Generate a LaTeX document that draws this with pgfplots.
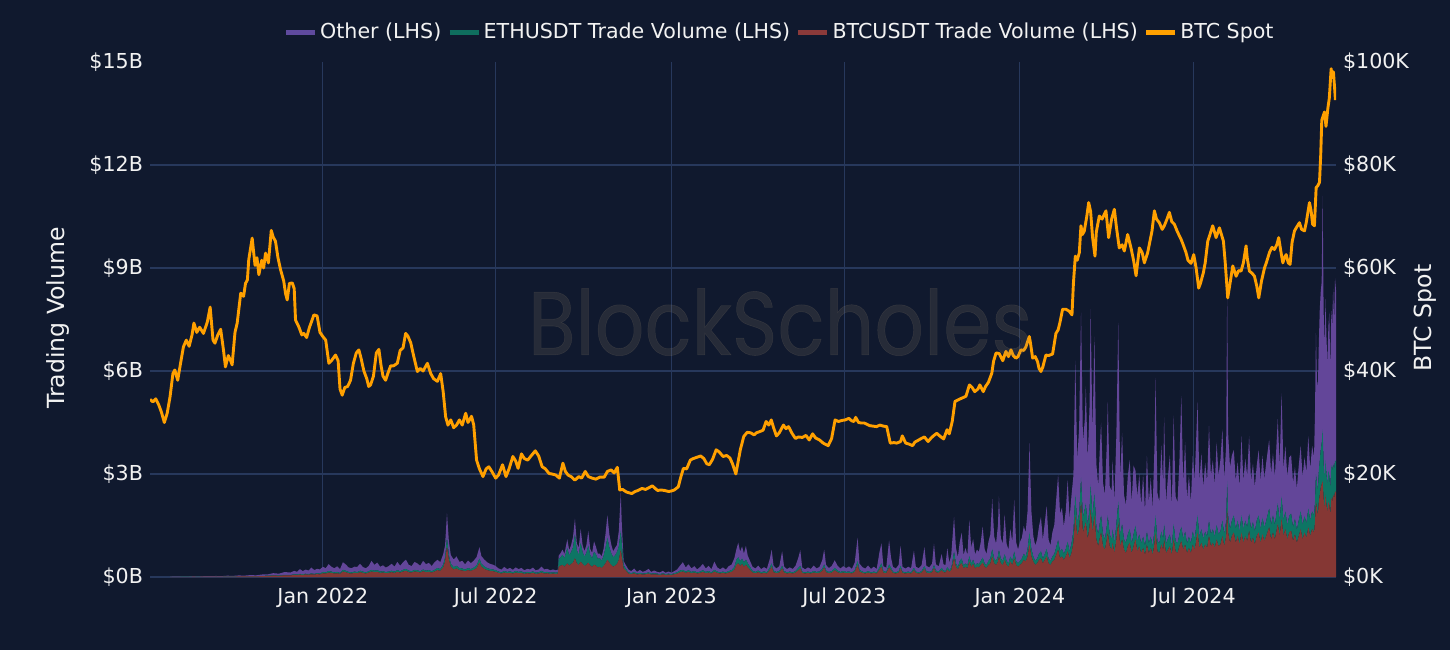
\documentclass[border=0pt]{standalone}
\usepackage{fontspec}
\setmainfont{DejaVu Sans}
\newfontfamily\wmfont{Poppins}[FakeBold=0.6]
\usepackage{pgfplots}
\pgfplotsset{compat=1.18}
\usepackage{pgfplotstable}
\definecolor{bg}{HTML}{10192E}
\definecolor{gridc}{HTML}{27385C}
\definecolor{txt}{HTML}{F2F2F2}
\definecolor{btcc}{HTML}{853734}
\definecolor{ethc}{HTML}{0D7564}
\definecolor{othc}{HTML}{634699}
\definecolor{btcl}{HTML}{8B3A3A}
\definecolor{ethl}{HTML}{0F6E5E}
\definecolor{othl}{HTML}{5F4A9E}
\definecolor{spot}{HTML}{FFA000}
\definecolor{wm}{HTML}{9A8A70}
\newcommand\fs{\fontsize{10.3}{12}\selectfont}
\newcommand\fl{\fontsize{11.8}{14}\selectfont}

\pgfplotstableread{
d b e o
-160 0.004 0.001 0.002
-154 0.005 0.001 0.003
-148 0.006 0.002 0.004
-142 0.006 0.002 0.005
-136 0.008 0.002 0.008
-130 0.007 0.002 0.006
-124 0.009 0.003 0.012
-118 0.010 0.003 0.010
-112 0.012 0.003 0.015
-106 0.011 0.003 0.012
-100 0.014 0.004 0.020
-94 0.013 0.004 0.016
-88 0.016 0.005 0.025
-82 0.015 0.005 0.020
-76 0.020 0.006 0.030
-70 0.018 0.006 0.025
-64 0.025 0.008 0.040
-58 0.030 0.010 0.035
-52 0.040 0.012 0.060
-46 0.035 0.012 0.050
-40 0.050 0.015 0.080
-34 0.045 0.015 0.070
-30 0.060 0.018 0.100
-27 0.055 0.018 0.080
-24 0.070 0.020 0.140
-21 0.060 0.020 0.090
-18 0.075 0.022 0.120
-15 0.065 0.022 0.100
-12 0.080 0.025 0.170
-9 0.070 0.022 0.110
-6 0.085 0.025 0.130
-3 0.075 0.025 0.120
0 0.11 0.04 0.15
3 0.10 0.035 0.12
6 0.13 0.045 0.20
9 0.12 0.04 0.14
12 0.10 0.035 0.12
15 0.11 0.04 0.16
18 0.09 0.03 0.11
21 0.16 0.05 0.22
24 0.14 0.045 0.18
27 0.11 0.04 0.13
30 0.10 0.035 0.12
33 0.12 0.04 0.14
36 0.11 0.035 0.15
39 0.14 0.045 0.20
42 0.12 0.04 0.13
45 0.10 0.035 0.12
48 0.13 0.04 0.15
51 0.16 0.05 0.26
54 0.14 0.045 0.17
57 0.15 0.05 0.22
60 0.12 0.04 0.14
63 0.13 0.04 0.17
66 0.11 0.035 0.13
69 0.12 0.04 0.16
72 0.14 0.045 0.20
75 0.12 0.04 0.14
78 0.15 0.05 0.24
81 0.13 0.04 0.16
84 0.16 0.05 0.22
87 0.18 0.055 0.27
90 0.14 0.045 0.17
93 0.13 0.04 0.15
96 0.16 0.05 0.23
99 0.15 0.045 0.20
102 0.13 0.04 0.16
105 0.17 0.05 0.25
108 0.14 0.045 0.19
111 0.15 0.05 0.21
114 0.13 0.04 0.15
117 0.16 0.05 0.22
120 0.20 0.06 0.24
123 0.18 0.055 0.20
126 0.28 0.08 0.30
128 0.45 0.12 0.35
130 0.90 0.25 0.70
132 0.50 0.14 0.40
134 0.30 0.09 0.25
137 0.22 0.07 0.22
140 0.25 0.08 0.27
143 0.20 0.06 0.18
146 0.19 0.06 0.22
149 0.17 0.05 0.15
152 0.20 0.06 0.22
155 0.18 0.055 0.17
158 0.21 0.065 0.20
161 0.26 0.08 0.24
164 0.42 0.12 0.33
166 0.30 0.09 0.22
169 0.24 0.07 0.20
172 0.20 0.06 0.17
175 0.18 0.055 0.15
178 0.17 0.05 0.14
181 0.15 0.05 0.12
184 0.12 0.04 0.09
187 0.10 0.035 0.08
190 0.13 0.045 0.12
193 0.11 0.04 0.08
196 0.12 0.045 0.10
199 0.10 0.04 0.07
202 0.13 0.05 0.10
205 0.11 0.04 0.08
208 0.12 0.045 0.10
211 0.09 0.035 0.07
214 0.11 0.04 0.09
217 0.10 0.04 0.08
220 0.12 0.045 0.11
223 0.09 0.035 0.07
226 0.10 0.04 0.08
229 0.13 0.05 0.12
232 0.10 0.04 0.08
235 0.11 0.04 0.09
238 0.09 0.035 0.07
241 0.10 0.04 0.08
244 0.09 0.035 0.07
246 0.10 0.04 0.07
247 0.30 0.22 0.10
249 0.33 0.25 0.12
251 0.35 0.30 0.15
253 0.30 0.25 0.12
256 0.40 0.45 0.25
258 0.33 0.30 0.15
260 0.38 0.35 0.20
262 0.42 0.45 0.30
264 0.55 0.70 0.45
266 0.40 0.38 0.20
268 0.35 0.30 0.20
270 0.45 0.55 0.40
272 0.38 0.35 0.20
274 0.32 0.28 0.15
276 0.36 0.35 0.22
278 0.42 0.50 0.42
280 0.34 0.30 0.18
282 0.30 0.25 0.15
284 0.36 0.38 0.30
286 0.33 0.33 0.22
288 0.28 0.25 0.15
290 0.30 0.25 0.13
292 0.26 0.22 0.12
294 0.32 0.30 0.20
296 0.40 0.45 0.40
298 0.50 0.65 0.65
300 0.42 0.45 0.38
302 0.35 0.35 0.25
304 0.30 0.28 0.17
306 0.33 0.30 0.22
308 0.38 0.35 0.20
310 0.50 0.40 0.45
312 0.80 0.55 1.10
313 0.60 0.40 0.60
315 0.25 0.10 0.12
317 0.20 0.06 0.10
320 0.10 0.04 0.08
323 0.08 0.03 0.06
326 0.11 0.04 0.10
329 0.07 0.03 0.05
332 0.09 0.035 0.08
335 0.07 0.03 0.05
338 0.08 0.03 0.07
341 0.10 0.035 0.10
344 0.07 0.03 0.05
347 0.08 0.03 0.08
350 0.07 0.03 0.05
353 0.06 0.025 0.05
356 0.08 0.03 0.07
359 0.06 0.025 0.04
362 0.07 0.03 0.06
365 0.06 0.025 0.04
368 0.08 0.03 0.06
371 0.10 0.04 0.08
374 0.14 0.05 0.14
377 0.16 0.05 0.22
380 0.12 0.04 0.12
383 0.15 0.05 0.17
386 0.11 0.04 0.10
389 0.13 0.045 0.14
392 0.10 0.035 0.09
395 0.12 0.04 0.13
398 0.15 0.05 0.18
401 0.11 0.04 0.10
404 0.13 0.045 0.15
407 0.10 0.035 0.09
410 0.16 0.05 0.24
413 0.12 0.04 0.12
416 0.10 0.035 0.09
419 0.12 0.04 0.12
422 0.10 0.035 0.08
425 0.13 0.045 0.14
428 0.15 0.05 0.16
431 0.22 0.08 0.25
433 0.35 0.15 0.30
435 0.40 0.18 0.42
437 0.32 0.14 0.28
439 0.38 0.16 0.35
441 0.30 0.13 0.25
443 0.36 0.15 0.40
445 0.28 0.12 0.22
447 0.22 0.09 0.18
450 0.13 0.05 0.12
453 0.11 0.04 0.10
456 0.14 0.05 0.14
459 0.10 0.04 0.09
462 0.12 0.045 0.12
465 0.10 0.04 0.10
468 0.20 0.07 0.25
470 0.30 0.10 0.40
472 0.14 0.05 0.14
475 0.11 0.04 0.10
478 0.13 0.045 0.14
481 0.25 0.08 0.42
483 0.13 0.045 0.13
486 0.10 0.04 0.09
489 0.12 0.04 0.12
492 0.10 0.035 0.10
495 0.13 0.045 0.15
498 0.20 0.07 0.30
500 0.25 0.08 0.45
502 0.12 0.04 0.12
505 0.10 0.035 0.09
508 0.12 0.04 0.12
511 0.10 0.035 0.10
514 0.13 0.045 0.16
517 0.11 0.04 0.10
520 0.12 0.04 0.13
523 0.18 0.06 0.25
525 0.28 0.09 0.43
527 0.14 0.05 0.16
530 0.11 0.04 0.11
533 0.13 0.045 0.15
536 0.20 0.07 0.22
539 0.14 0.05 0.14
542 0.11 0.04 0.10
545 0.13 0.045 0.14
548 0.11 0.04 0.11
551 0.12 0.04 0.15
554 0.10 0.035 0.10
557 0.15 0.05 0.22
560 0.35 0.12 0.68
562 0.16 0.05 0.18
565 0.12 0.04 0.13
568 0.10 0.035 0.11
571 0.13 0.045 0.16
574 0.10 0.035 0.10
577 0.12 0.04 0.14
580 0.10 0.035 0.10
583 0.22 0.07 0.45
585 0.30 0.10 0.58
587 0.13 0.045 0.14
590 0.11 0.04 0.12
593 0.28 0.09 0.70
595 0.20 0.07 0.30
597 0.12 0.04 0.14
600 0.10 0.035 0.11
603 0.13 0.045 0.18
605 0.25 0.08 0.58
607 0.12 0.04 0.14
610 0.10 0.035 0.11
613 0.12 0.04 0.14
616 0.10 0.035 0.12
619 0.20 0.07 0.50
621 0.12 0.04 0.14
624 0.10 0.035 0.12
627 0.13 0.045 0.17
630 0.24 0.08 0.55
632 0.13 0.045 0.15
635 0.11 0.04 0.13
638 0.14 0.05 0.20
640 0.26 0.09 0.62
642 0.14 0.05 0.18
645 0.12 0.04 0.15
648 0.20 0.07 0.40
650 0.14 0.05 0.18
652 0.13 0.045 0.17
654 0.22 0.07 0.55
656 0.15 0.05 0.22
658 0.20 0.07 0.35
659 0.30 0.10 0.60
661 0.55 0.20 1.00
663 0.30 0.10 0.45
665 0.22 0.08 0.28
667 0.35 0.12 0.55
669 0.40 0.14 0.75
671 0.25 0.09 0.30
673 0.30 0.10 0.45
675 0.25 0.09 0.30
677 0.45 0.16 1.05
679 0.30 0.10 0.45
681 0.38 0.13 0.60
683 0.25 0.09 0.32
685 0.30 0.10 0.40
687 0.28 0.10 0.35
689 0.35 0.12 0.55
691 0.42 0.15 0.90
693 0.30 0.10 0.42
695 0.26 0.09 0.32
697 0.35 0.12 0.55
699 0.40 0.14 0.70
701 0.60 0.22 1.45
703 0.40 0.14 0.65
705 0.35 0.12 0.50
707 0.45 0.16 0.90
708 0.60 0.20 1.55
710 0.40 0.14 0.60
712 0.35 0.12 0.50
714 0.50 0.17 1.15
716 0.35 0.12 0.50
718 0.30 0.10 0.40
720 0.45 0.15 0.80
722 0.35 0.12 0.55
724 0.55 0.20 1.50
726 0.35 0.12 0.55
728 0.30 0.10 0.40
730 0.35 0.12 0.55
732 0.40 0.14 0.60
734 0.50 0.18 0.80
736 0.45 0.15 0.70
738 0.60 0.22 1.10
740 0.95 0.35 2.60
742 0.60 0.22 1.10
744 0.45 0.15 0.60
746 0.35 0.12 0.45
748 0.40 0.14 0.55
750 0.50 0.18 0.80
752 0.55 0.20 1.00
754 0.40 0.14 0.55
756 0.50 0.17 0.90
758 0.60 0.22 1.25
760 0.40 0.14 0.55
762 0.35 0.12 0.45
764 0.45 0.15 0.70
766 0.50 0.17 0.85
768 0.65 0.22 1.40
770 0.80 0.28 1.90
772 0.55 0.20 1.10
774 0.60 0.22 1.20
776 0.50 0.18 0.80
778 0.60 0.22 1.10
780 0.75 0.28 1.80
782 0.55 0.20 0.95
784 0.70 0.28 1.40
786 1.00 0.35 1.60
788 1.80 0.60 3.90
790 1.20 0.40 1.80
792 1.40 0.45 2.50
794 2.20 0.70 4.80
796 1.30 0.45 2.20
798 1.50 0.50 2.60
799 1.60 0.55 3.40
801 1.10 0.40 1.90
803 1.50 0.55 3.00
804 2.00 0.70 5.10
806 1.30 0.45 2.40
808 1.80 0.65 4.55
810 1.10 0.40 1.80
812 0.90 0.35 1.40
814 1.20 0.45 2.30
815 1.30 0.50 2.70
817 0.90 0.35 1.50
819 0.80 0.30 1.30
821 1.10 0.40 2.40
822 1.30 0.50 3.30
824 0.90 0.35 1.40
826 0.80 0.30 1.40
827 1.00 0.40 2.00
829 0.70 0.30 1.20
831 1.10 0.45 2.60
833 1.60 0.60 5.20
835 0.90 0.35 1.60
837 1.10 0.45 2.65
839 0.80 0.30 1.30
841 0.70 0.30 1.10
843 0.90 0.35 1.70
845 1.00 0.40 2.00
847 0.70 0.28 1.20
849 0.90 0.35 2.00
851 1.10 0.40 1.60
853 0.75 0.30 1.30
855 0.90 0.35 1.75
857 0.70 0.28 1.10
859 0.85 0.33 1.80
861 0.65 0.25 1.00
863 0.95 0.38 2.20
865 0.70 0.28 1.20
867 0.85 0.33 1.70
869 0.65 0.25 1.10
871 1.00 0.40 2.50
872 1.30 0.50 4.00
874 0.75 0.30 1.40
876 0.70 0.28 1.20
878 0.95 0.38 2.50
880 0.80 0.32 1.60
881 1.10 0.45 3.10
883 0.70 0.28 1.20
885 0.80 0.32 1.80
887 0.90 0.35 2.30
889 0.65 0.25 1.10
891 1.10 0.45 3.15
893 0.75 0.30 1.30
895 0.70 0.28 1.20
897 0.90 0.35 2.10
899 1.05 0.42 3.80
901 0.80 0.32 1.60
903 0.95 0.38 2.60
905 0.70 0.28 1.30
907 0.85 0.33 1.80
909 0.70 0.28 1.20
911 0.95 0.38 2.20
913 0.80 0.32 1.70
916 1.30 0.50 3.30
918 0.85 0.33 1.60
920 1.00 0.40 2.20
922 0.80 0.32 1.50
924 0.95 0.38 2.00
926 0.85 0.33 1.60
928 1.20 0.45 2.75
930 0.90 0.35 1.70
932 1.00 0.40 2.00
934 0.85 0.33 1.50
936 1.10 0.42 2.40
938 0.90 0.35 1.70
940 0.95 0.38 2.10
942 1.20 0.45 2.65
944 0.90 0.35 1.60
946 1.20 0.45 2.20
947 2.00 0.80 5.50
948 1.30 0.50 2.40
950 1.00 0.40 1.80
952 1.20 0.45 1.90
954 1.30 0.50 1.90
956 1.00 0.40 1.40
958 1.20 0.45 1.70
960 0.95 0.38 1.30
962 1.30 0.50 2.30
964 1.00 0.40 1.40
966 1.20 0.45 1.80
968 1.05 0.40 1.50
970 1.35 0.50 2.25
972 1.00 0.40 1.40
974 1.15 0.45 1.70
976 0.95 0.38 1.30
978 1.20 0.45 1.60
980 1.30 0.50 1.90
982 1.00 0.40 1.40
984 1.25 0.48 1.80
986 1.05 0.40 1.40
988 1.20 0.45 1.70
991 1.45 0.55 2.00
993 1.10 0.42 1.50
995 1.30 0.50 1.80
997 1.10 0.42 1.40
1000 1.55 0.60 2.45
1002 1.20 0.45 1.60
1004 1.70 0.65 3.00
1006 1.20 0.45 1.50
1008 1.40 0.52 1.90
1010 1.10 0.42 1.40
1012 1.30 0.48 1.70
1014 1.35 0.50 1.70
1016 1.05 0.40 1.30
1018 1.25 0.45 1.50
1020 1.00 0.38 1.20
1022 1.20 0.45 1.60
1024 1.40 0.52 1.90
1026 1.10 0.42 1.40
1028 1.30 0.48 1.70
1030 1.15 0.42 1.50
1032 1.45 0.55 2.10
1034 1.20 0.45 1.50
1036 1.40 0.52 1.90
1038 1.30 0.50 1.70
1039 1.60 0.60 2.60
1040 2.20 0.80 4.10
1041 2.00 0.75 3.00
1042 1.80 0.70 3.00
1043 2.20 0.90 3.70
1044 2.40 1.00 4.40
1045 2.60 1.10 4.60
1046 2.70 1.20 4.70
1047 2.80 1.50 6.80
1048 2.30 1.00 4.50
1049 2.00 0.90 3.80
1050 2.40 1.00 4.70
1051 2.10 0.90 4.00
1052 1.90 0.80 3.50
1053 2.20 0.90 4.20
1054 2.10 0.85 4.75
1055 1.80 0.75 3.40
1056 2.30 0.95 4.50
1057 2.20 0.90 4.20
1058 2.40 0.90 5.10
1059 2.30 0.85 4.30
1060 2.50 0.90 5.30
1061 2.45 0.90 5.00
}\vol

\pgfplotstableread{
d p
-181 34.5
-178 34.0
-175 34.6
-172 33.5
-169 32.0
-166 30.0
-163 31.8
-160 35.0
-157 39.5
-155 40.2
-152 38.2
-149 41.5
-146 44.7
-143 46.0
-140 44.8
-137 47.0
-135 49.3
-132 47.5
-129 48.5
-125 47.3
-121 49.5
-118 52.4
-115 46.0
-113 45.4
-110 47.0
-107 48.1
-104 44.0
-102 40.8
-99 43.0
-97 42.2
-95 41.2
-92 47.5
-89.7 49.3
-86 55.1
-83 54.5
-81 57.0
-79 57.7
-77.6 61.6
-74 65.8
-71 60.5
-69 62.0
-67 58.7
-64 61.5
-62 60.0
-60 62.9
-57 61.0
-54 67.3
-52 66.0
-49.6 65.2
-47 62.0
-44.3 59.7
-41 57.5
-39 55.0
-37.3 53.8
-35 57.0
-32 57.1
-30 56.0
-28.6 49.9
-25 48.5
-22 47.0
-19.9 47.3
-17 46.5
-14 48.5
-12 49.5
-9.4 50.9
-6 50.7
-3 47.5
0 46.7
3 46.0
6.3 41.5
9 42.0
13.3 43.1
16 42.0
18 36.5
20.3 35.3
23 36.8
26 37.0
29 38.2
32 41.5
35 43.5
37.7 44.1
40 42.5
43 40.0
46 38.5
48 37.0
50 37.3
53 39.0
56 43.5
58.7 44.2
61 41.0
63 39.0
65.7 38.2
68 39.5
71 41.0
74 41.0
78 41.5
81 44.0
84 44.5
86.7 47.3
89 46.8
92 45.5
95 43.0
99 39.9
102 40.5
105 40.0
109.5 41.5
113 39.5
116 38.5
120 38.0
123.4 39.5
126 36.0
128.6 31.1
131 29.5
134 30.5
137 29.0
140 29.5
143 30.5
146 29.5
149.6 31.8
152 30.0
155.7 31.2
158 29.5
161 22.7
164 21.0
167.7 19.5
171 21.0
173.8 21.4
177 20.5
181 19.2
184 19.8
188.2 21.8
191.8 19.5
195 21.0
199 23.4
202 22.5
204.5 21.1
208 23.9
211 23.0
214.6 22.7
218 23.5
222.5 24.5
226 23.5
229.7 21.4
233 21.0
236.9 20.1
240 20.0
244 19.8
247.7 19.2
251.4 22.1
254 20.5
256.8 19.8
260 19.5
264 18.8
268 19.5
271 19.2
274.8 20.5
278 19.5
282 19.2
286 19.0
290 19.4
294.7 19.4
298 20.5
301.9 20.8
305 20.2
308.4 21.3
310.9 16.9
314 17.0
318 16.5
323.5 16.2
327 16.6
330 16.8
334.3 17.2
338 17.0
341 17.3
345.2 17.7
348 17.2
350.6 16.8
354 16.9
358 16.8
362 16.6
365 16.7
368 16.9
372.2 17.5
375 19.5
377.6 21.1
381 21.0
384.8 22.7
388 23.0
391 23.2
395.7 23.5
399 23.0
402 22.0
404.7 21.8
408 22.8
411.9 24.7
415 24.3
419.1 23.4
423 23.6
426.3 23.1
429 22.0
432.5 20.0
435 22.5
437.2 24.7
440.8 27.3
444.4 28.1
448 28.0
451.6 27.6
454 28.0
457 28.2
461 28.5
464.2 30.2
467 29.5
469.6 30.5
472 29.0
475 27.4
478 28.0
482.3 29.5
485 28.8
487.7 29.2
491 28.0
494.9 26.9
498 27.2
502.1 27.1
506 27.5
509.3 26.6
512.9 27.8
516 27.0
520.2 26.6
524 26.0
529.2 25.5
532.8 26.9
536.4 30.5
540 30.2
543.6 30.4
547 30.5
550.8 30.8
554 30.3
556.2 30.2
558 31.0
561 30.0
564 29.9
567 29.9
572.5 29.4
576 29.3
580 29.2
583.3 29.5
587 29.3
590.5 29.2
594.2 26.0
598 26.1
601 26.0
605 26.3
606.8 27.4
610.4 26.0
614 25.8
617.6 25.5
620 26.2
623 26.5
626.7 26.9
630 27.2
633.8 26.3
637 27.0
640 27.5
642.9 27.9
646 27.4
650.1 26.8
653.7 28.6
656 27.8
659.1 30.2
662 34.1
666.3 34.5
670 34.8
673.5 35.1
677.1 37.3
680 36.8
682.6 36.0
686 36.5
688 37.3
691.6 36.0
694 37.0
697 37.8
700.6 39.6
702.4 41.9
705 43.5
708.3 43.4
712 42.0
715.3 43.8
718 42.8
720.6 44.1
723 43.0
725.8 42.5
728 42.8
731 44.1
734 44.0
736.3 44.7
739.8 46.7
741 45.5
743.3 42.5
746 42.8
748.5 41.8
750 40.5
752 39.9
754 40.8
757.2 43.1
760 43.0
764.2 43.3
767.7 47.3
770 48.0
772 49.5
774.7 52.0
778 52.0
781.7 51.6
784.5 50.9
786 57.0
788 62.3
790 61.5
792.2 63.0
793.9 68.2
795.5 66.5
797.4 67.2
800 70.0
802 72.7
804 71.0
806.1 65.9
808.6 62.3
810 67.0
813.1 70.1
816 69.5
820.1 71.1
822.9 65.9
826 69.5
828.9 71.4
831 68.0
834 63.9
837 64.5
839.3 63.3
842.8 66.5
846.3 63.9
849 61.5
851.6 58.5
855.1 63.9
858 63.0
860.3 61.0
863.8 63.0
868.3 67.2
870.8 71.1
873 69.5
876 68.8
879 67.5
881.2 68.2
884 69.5
886.5 70.8
889 69.0
891.7 68.5
895 67.0
898.7 65.6
901 64.5
903.9 63.0
906 61.5
909.2 60.9
912 62.6
914.5 60.0
917.2 56.1
919 57.0
922.1 59.1
924 61.0
926.7 65.2
929 66.5
931.9 68.2
935.4 65.9
938.9 67.8
943.1 65.2
945 61.0
947.6 54.2
950 57.0
952.9 60.4
956.4 58.4
959 59.5
961.6 59.4
964 61.0
966.8 64.3
968 62.0
970.3 59.4
973 59.0
975.6 58.4
978 56.5
980.1 54.2
983 57.5
986.1 60.0
988 61.0
991.3 63.0
994 64.0
996.5 63.6
999 64.5
1001 65.9
1003 63.5
1005.3 61.0
1007 62.0
1008.8 62.6
1011 61.0
1012.9 60.7
1015 65.0
1017.5 67.2
1020 68.0
1022.7 68.8
1025 67.5
1028 67.2
1030 69.0
1033.2 72.7
1035 71.0
1036.5 68.5
1038.4 68.2
1040.2 75.6
1042 76.0
1043.7 76.6
1045 82.0
1046.1 88.7
1047.5 89.5
1048.9 90.3
1050.5 87.5
1052.4 90.9
1054 93.0
1055.9 98.7
1057 97.0
1058.3 98.1
1059.5 95.0
1060.4 92.6
}\spotdata

\begin{document}
\begin{tikzpicture}[x=1pt,y=1pt]
\fill[bg] (-75,-36.5) rectangle (650,288.5);
\begin{axis}[
  at={(0,0)}, anchor=south west,
  scale only axis, width=593pt, height=257.5pt,
  xmin=-181, xmax=1061, ymin=0, ymax=15,
  axis line style={draw=none},
  major tick length=0pt,
  xtick={0,181,365,546,730,912},
  xticklabels={Jan 2022,Jul 2022,Jan 2023,Jul 2023,Jan 2024,Jul 2024},
  ytick={0,3,6,9,12},
  yticklabels={\$0B,\$3B,\$6B,\$9B,\$12B},
  extra y ticks={15},
  extra y tick labels={\$15B},
  extra y tick style={grid=none},
  tick label style={text=txt, font=\fs},
  xticklabel style={yshift=-2pt},
  grid=major,
  grid style={draw=gridc, line width=0.55pt},
  every axis y label/.style={at={(axis description cs:-0.0776,0.503)}, anchor=center, rotate=90, font=\fl, text=txt},
  ylabel={Trading Volume},
  stack plots=y,
  legend columns=4,
  legend image code/.code={\draw[#1, line width=2.5pt] (0pt,0pt) -- (14.5pt,0pt);},
  legend style={at={(axis description cs:0.532,1.058)}, anchor=center, draw=none, fill=none, text=txt, font=\fs, inner sep=0pt,
    nodes={inner xsep=2.4pt},
    /tikz/every odd column/.append style={column sep=-1.1pt},
    /tikz/every even column/.append style={column sep=0.5pt}},
]
\addlegendimage{draw=othl}
\addlegendentry{Other (LHS)}
\addlegendimage{draw=ethl}
\addlegendentry{ETHUSDT Trade Volume (LHS)}
\addlegendimage{draw=btcl}
\addlegendentry{BTCUSDT Trade Volume (LHS)}
\addlegendimage{draw=spot}
\addlegendentry{BTC Spot}
\addplot[fill=btcc, draw=none] table[x=d, y=b] {\vol} \closedcycle;
\addplot[fill=ethc, draw=none] table[x=d, y=e] {\vol} \closedcycle;
\addplot[fill=othc, draw=none] table[x=d, y=o] {\vol} \closedcycle;
\end{axis}
\begin{axis}[
  at={(0,0)}, anchor=south west,
  scale only axis, width=593pt, height=257.5pt,
  xmin=-181, xmax=1061, ymin=0, ymax=100,
  axis y line*=right, axis x line=none,
  y axis line style={draw=none},
  major tick length=0pt,
  ytick={0,20,40,60,80,100},
  yticklabels={\$0K,\$20K,\$40K,\$60K,\$80K,\$100K},
  tick label style={text=txt, font=\fs},
  every axis y label/.style={at={(axis description cs:1.075,0.503)}, anchor=center, rotate=90, font=\fl, text=txt},
  ylabel={BTC Spot},
]
\addplot[color=spot, line width=1.45pt, line join=round] table[x=d, y=p] {\spotdata};
\end{axis}
\node[text=wm, opacity=0.16, inner sep=0pt] at (315,127.5) {\resizebox{252pt}{33.3pt}{\wmfont BlockScholes}};
\pgfresetboundingbox
\path[use as bounding box] (-75,-36.5) rectangle (650,288.5);
\end{tikzpicture}
\end{document}
